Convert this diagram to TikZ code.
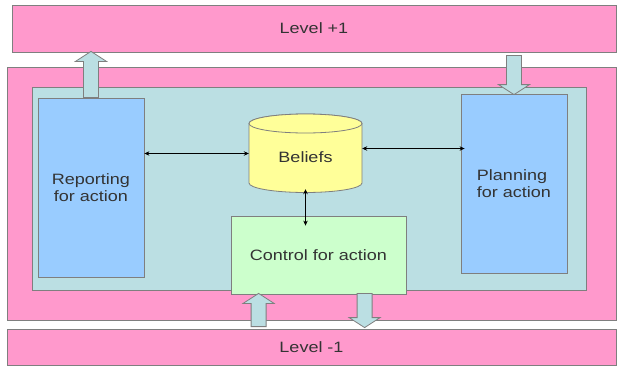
\documentclass[tikz,border=0pt]{standalone}
\usepackage{fontspec}
\setmainfont{Liberation Sans}[FakeStretch=1.2]
\usetikzlibrary{calc,arrows.meta}
\definecolor{pinkbg}{HTML}{FF99CC}
\definecolor{tealbg}{HTML}{BBDFE3}
\definecolor{bluebg}{HTML}{99CCFF}
\definecolor{yellowbg}{HTML}{FFFF99}
\definecolor{greenbg}{HTML}{CCFFCC}
\definecolor{edge}{HTML}{7F7F7F}
\definecolor{txt}{HTML}{333333}
\newcommand\blockup[2]{\draw[blockarr] let \p1=#1, \p2=#2 in (\x1-7.5pt,\y1) -- (\x1-7.5pt,\y2-10pt) -- (\x1-15.5pt,\y2-10pt) -- (\x1,\y2) -- (\x1+15.5pt,\y2-10pt) -- (\x1+7.5pt,\y2-10pt) -- (\x1+7.5pt,\y1) -- cycle;}
\newcommand\blockdown[2]{\draw[blockarr] let \p1=#1, \p2=#2 in (\x1-7.5pt,\y1) -- (\x1-7.5pt,\y2+10pt) -- (\x1-15.5pt,\y2+10pt) -- (\x1,\y2) -- (\x1+15.5pt,\y2+10pt) -- (\x1+7.5pt,\y2+10pt) -- (\x1+7.5pt,\y1) -- cycle;}
\begin{document}
\begin{tikzpicture}[x=1pt,y=-1pt,
  font=\fontsize{15}{17.5}\selectfont,
  box/.style={draw=edge,line width=0.8pt,inner sep=0pt,text=txt},
  blockarr/.style={draw=edge,line width=0.8pt,fill=tealbg},
  link/.style={{Stealth[length=5pt,width=4.5pt]}-{Stealth[length=5pt,width=4.5pt]},line width=0.7pt,black}]
\useasboundingbox (0,0) rectangle (618,367);
\node[box,fill=pinkbg,minimum width=609pt,minimum height=253pt] (outer) at (311.5,193.5) {};
\node[box,fill=tealbg,minimum width=554pt,minimum height=203pt] (inner) at (309,188.5) {};
\node[box,fill=pinkbg,minimum width=604pt,minimum height=47pt] (l1) at (314,28.5) {Level +1};
\node[box,fill=pinkbg,minimum width=609pt,minimum height=36pt] (l2) at (311.5,347) {Level -1};
\node[box,fill=bluebg,minimum width=106pt,minimum height=179pt,align=center] (rep) at (91,187.5) {Reporting\\for action};
\node[box,fill=bluebg,minimum width=106pt,minimum height=179pt,align=left] (plan) at (514,183.5) {Planning\\for action};
\node[box,fill=greenbg,minimum width=175pt,minimum height=78pt] (ctrl) at (318.5,255) {Control for action};
% Beliefs cylinder
\filldraw[draw=edge,line width=0.8pt,fill=yellowbg] (249,123.5) -- (249,183)
  arc[start angle=180,end angle=0,x radius=56.5,y radius=9.5] -- (362,123.5)
  arc[start angle=0,end angle=-180,x radius=56.5,y radius=9.5] -- cycle;
\draw[edge,line width=0.8pt,fill=yellowbg] (305.5,123.5) ellipse[x radius=56.5,y radius=9.5];
\node[inner sep=0pt,minimum width=113pt,minimum height=79pt] (bel) at (305.5,153.5) {};
\node[text=txt,inner sep=0pt] (beltxt) at (305.5,157.5) {Beliefs};
% links
\draw[link] (bel.west -| rep.east) -- (bel.west);
\draw[link] ($(bel.east)+(0,-5)$) -- ($(bel.east -| plan.west)+(4,-5)$);
\draw[link] ($(bel.south)+(0,-4)$) -- ($(bel.south |- ctrl.north)+(0,10)$);
% block arrows
\blockup{(rep.north)}{($(rep.north |- l1.south)+(0,-1)$)}
\blockdown{($(plan.north |- l1.south)+(0,3)$)}{($(plan.north)+(0,1)$)}
\coordinate (cu) at ($(ctrl.south west)+(28,0)$);
\coordinate (cd) at ($(ctrl.south west)+(134,0)$);
\blockup{($(cu |- l2.north)+(0,-2)$)}{($(cu)+(0,-1)$)}
\blockdown{($(cd)+(0,-1)$)}{($(cd |- l2.north)+(0,-1)$)}
\end{tikzpicture}
\end{document}
